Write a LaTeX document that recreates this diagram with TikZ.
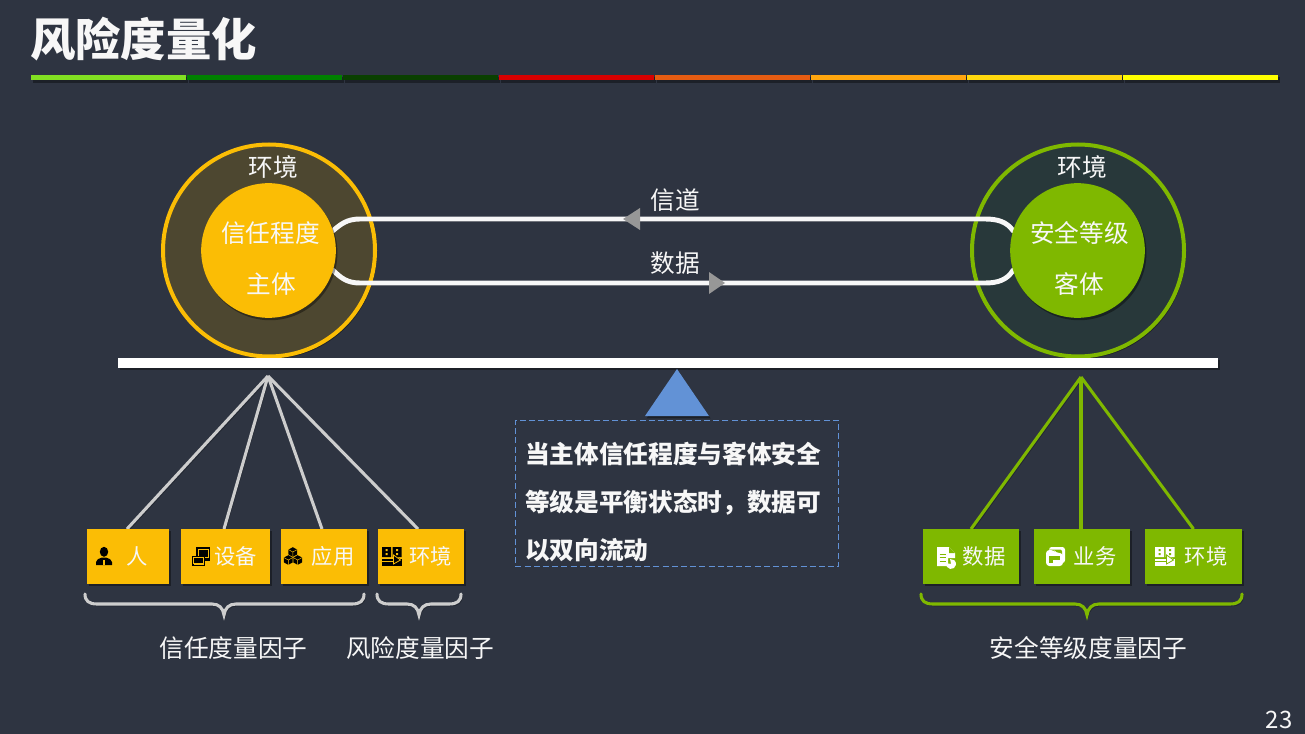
\documentclass[tikz,border=0pt]{standalone}
\usepackage{fontspec}
\setmainfont{Noto Sans CJK SC}
\newfontfamily\heavyfont{Noto Sans CJK SC Black}
\usetikzlibrary{shadows,calc}
\pgfdeclarelayer{lower}
\pgfsetlayers{lower,main}
\definecolor{bgc}{HTML}{2E3441}
\definecolor{amber}{HTML}{FBBD05}
\definecolor{leaf}{HTML}{7FB800}
\definecolor{amberdim}{HTML}{4D4730}
\definecolor{leafdim}{HTML}{28383A}
\definecolor{skyb}{HTML}{6292D6}
\definecolor{linegray}{HTML}{CDCDCD}
\definecolor{arrowgray}{HTML}{979797}
\definecolor{txt}{HTML}{F7F7F7}
\tikzset{
  x=.75pt,y=-.75pt,
  softshadow/.style={drop shadow={opacity=.38,fill=black,shadow xshift=1.2pt,shadow yshift=-1.8pt}},
  lineshadow/.style={preaction={draw=black,opacity=.3,transform canvas={shift={(1pt,-1.5pt)}}}},
  label text/.style={text=txt,inner sep=0,font=\fontsize{18.5pt}{22pt}\selectfont},
  box text/.style={text=txt,inner sep=0,font=\fontsize{16pt}{20pt}\selectfont},
  factor/.style={rectangle,inner sep=0,outer sep=0,minimum height=41.25pt,softshadow},
  amberbox/.style={factor,fill=amber},
  leafbox/.style={factor,fill=leaf},
  ring/.style={circle,inner sep=0,outer sep=0,minimum size=159pt,line width=3pt,softshadow},
  core/.style={circle,inner sep=0,outer sep=0,minimum size=101pt,softshadow},
  channel/.style={draw=txt,line width=3.7pt,line cap=round,lineshadow},
  grayspoke/.style={draw=linegray,line width=2.3pt,lineshadow},
  leafspoke/.style={draw=leaf,line width=2.3pt,lineshadow},
  bracel/.style={line width=2.3pt,line cap=round,lineshadow},
  segbar/.style={rectangle,inner sep=0,outer sep=0,minimum height=3.9pt,softshadow},
  midtip/.style={fill=arrowgray}
}
\newcommand{\bracepath}[4]{% x1, xm, x2, colour
  \draw[bracel,draw=#4] ({#1},594) .. controls ({#1},601) and ({#1+4},604) .. ({#1+12},604)
    -- ({#2-12},604) .. controls ({#2-5},604) and ({#2-1},608) .. ({#2},615)
    .. controls ({#2+1},608) and ({#2+5},604) .. ({#2+12},604)
    -- ({#3-12},604) .. controls ({#3-4},604) and ({#3},601) .. ({#3},594);}
\newcommand{\enviconat}[4]{% x,y top left, fg, bg
  \begin{scope}[shift={(#1,#2)}]
    \fill[#3] (0,0) rectangle (9,10) (10.5,0) rectangle (19.5,10);
    \fill[#3] (0,11.5) rectangle (19.5,19);
    \fill[#4] (3.5,2) rectangle (5.5,4) (14,2) rectangle (16,4) (3.5,6) rectangle (5.5,8) (14,6) rectangle (16,8);
    \draw[#4,line width=.6pt] (0,14.5) -- (12,14.5);
    \fill[#3] (11,7) -- (19.5,13) -- (11,18) -- cycle;
    \draw[#4,line width=.6pt] (11.5,8) -- (18.5,13) -- (11.5,17) -- cycle;
  \end{scope}}
\begin{document}
\begin{tikzpicture}
\useasboundingbox (0,0) rectangle (1305,734);
\begin{pgfonlayer}{lower}
  \fill[bgc] (0,0) rectangle (1305,734);
\end{pgfonlayer}

% title
\node[inner sep=0,text=txt,font=\fontsize{34pt}{40pt}\selectfont\heavyfont] (title) at (143.5,39) {风险度量化};
\foreach \i/\a/\c in {1/31/82E022,2/187/008000,3/343/0A4000,4/499/D80000,5/655/E65C12,6/811/FFA60E,7/967/FFD80E,8/1123/FFFF00}{
  \definecolor{segc}{HTML}{\c}
  \node[segbar,fill=segc,minimum width=116.25pt,anchor=north west] (seg\i) at (\a,75) {};
}

% circles
\begin{pgfonlayer}{lower}
  \node[ring,draw=amber,fill=amberdim] (ringL) at (269,250.5) {};
  \node[ring,draw=leaf,fill=leafdim] (ringR) at (1078,250.5) {};
\end{pgfonlayer}
\node[core,fill=amber] (subj) at (268.5,250.5) {};
\node[core,fill=leaf] (obj) at (1077.5,250.5) {};
\begin{pgfonlayer}{lower}
  \draw[channel] (subj.17) .. controls (341,224) and (347,219) .. (360,219) -- (985,219) .. controls (998,219) and (1007,222) .. (obj.163);
  \draw[channel] (subj.343) .. controls (341,278) and (347,283) .. (360,283) -- (985,283) .. controls (998,283) and (1007,280) .. (obj.197);
\end{pgfonlayer}
\fill[midtip] (623,219) -- (640,208) -- (640,230) -- cycle;
\fill[midtip] (725,283) -- (709,272) -- (709,294) -- cycle;

\node[label text] (envL) at (273,167) {环境};
\node[label text] (envR) at (1082,167) {环境};
\node[label text] (trust) at (270.5,233) {信任程度};
\node[label text] (subjT) at (271,284) {主体};
\node[label text] (secur) at (1079.5,233) {安全等级};
\node[label text] (objT) at (1079.5,284) {客体};
\node[label text] (chan) at (675,200) {信道};
\node[label text] (dataT) at (675,263) {数据};

% beam and fulcrum
\node[rectangle,fill=white,inner sep=0,outer sep=0,minimum width=825pt,minimum height=7.5pt,softshadow,anchor=north west] (beam) at (118,358) {};
\fill[skyb,softshadow] (677,369) -- (709,416) -- (645,416) -- cycle;
\node[draw=skyb,dash pattern=on 4.5pt off 2.4pt,line width=.6pt,anchor=north west,inner sep=0,
      minimum width=242.5pt,minimum height=109.5pt] (note) at (515,420) {};
\node[text=txt,anchor=west,inner sep=0,text width=228pt,align=left,
      font=\fontsize{18.5pt}{36pt}\selectfont\bfseries] (noteT) at (525,502) {当主体信任程度与客体安全\\等级是平衡状态时，数据可\\以双向流动};

% boxes
\node[amberbox,minimum width=61.5pt] (b1) at (128,556.5) {};
\node[amberbox,minimum width=66.75pt] (b2) at (225.5,556.5) {};
\node[amberbox,minimum width=64.5pt] (b3) at (324,556.5) {};
\node[amberbox,minimum width=64.5pt] (b4) at (421,556.5) {};
\node[leafbox,minimum width=72pt] (g1) at (971,556.5) {};
\node[leafbox,minimum width=72pt] (g2) at (1082,556.5) {};
\node[leafbox,minimum width=72.75pt] (g3) at (1193.5,556.5) {};

\node[box text] at (137,556) {人};
\node[box text] at (235.5,556) {设备};
\node[box text] at (333,556) {应用};
\node[box text] at (430.5,556) {环境};
\node[box text] at (984,556) {数据};
\node[box text] at (1095,556) {业务};
\node[box text] at (1206,556) {环境};

% spokes
\coordinate (apexL) at (268,376);
\coordinate (apexR) at (1081,377);
\begin{pgfonlayer}{lower}
  \foreach \t/\d in {b1/-1,b2/-1.5,b3/-2,b4/-3}{\draw[grayspoke] (apexL) -- ($(\t.north)+(\d,0)$);}
  \foreach \t/\d in {g1/0,g2/-1,g3/0}{\draw[leafspoke] (apexR) -- ($(\t.north)+(\d,0)$);}
\end{pgfonlayer}

% icons: person
\fill[black] (104,551.8) ellipse[x radius=4.2,y radius=5];
\fill[black] (96,565) -- (96,562) .. controls (96,559.5) and (99,558.5) .. (102,557.5) -- (106,557.5) .. controls (109,558.5) and (112,559.5) .. (112,562) -- (112,565) -- cycle;
\fill[amber] (103.2,560) rectangle (104.8,565);
% icons: device
\fill[black] (196,547) rectangle (210,561);
\draw[amber,line width=.6pt] (198,549) rectangle (208,557);
\fill[black] (192,556) rectangle (205,566);
\draw[amber,line width=.6pt] (193.5,557.5) rectangle (203.5,563) (193.5,564.5) -- (203.5,564.5);
% icons: cubes
\foreach \cx/\cy in {292.8/552,288.3/560,297.7/560}{
  \fill[black] (\cx,\cy-4.8) -- (\cx+4.4,\cy-2.4) -- (\cx+4.4,\cy+2.4) -- (\cx,\cy+4.8) -- (\cx-4.4,\cy+2.4) -- (\cx-4.4,\cy-2.4) -- cycle;
  \draw[amber,line width=.35pt] (\cx-4.4,\cy-2.4) -- (\cx,\cy) -- (\cx+4.4,\cy-2.4) (\cx,\cy) -- (\cx,\cy+4.8);
}
\enviconat{382}{547}{black}{amber}
% icons: data
\fill[white] (937,547) -- (949,547) -- (955,553) -- (955,558) -- (948,558) -- (948,566) -- (937,566) -- cycle;
\fill[leaf] (949,547) -- (949,553) -- (955,553) -- cycle;
\draw[leaf,line width=.6pt] (939.5,554) -- (946,554) (939.5,557.5) -- (946,557.5) (939.5,561) -- (946,561);
\fill[white] (951,564) ++(135:0) -- ++(190:5) arc[start angle=190,end angle=-100,radius=5] -- cycle;
% icons: folder
\fill[white,rounded corners=2pt] (1049,547) rectangle (1065,563);
\fill[leaf,rounded corners=1.5pt] (1047,549.5) rectangle (1062,564.5);
\fill[white,rounded corners=2.5pt] (1046,550) -- (1054,550) -- (1056,553) -- (1063,553) -- (1063,566) -- (1046,566) -- cycle;
\fill[leaf] (1049,556) rectangle (1060,563);
\fill[white] (1053,560) rectangle (1061,564);
\enviconat{1155}{547}{white}{leaf}

% braces
\bracepath{85}{224}{364}{linegray}
\bracepath{377}{419}{461}{linegray}
\bracepath{921}{1087}{1242}{leaf}

\node[label text] (f1) at (233.5,648) {信任度量因子};
\node[label text] (f2) at (420,648) {风险度量因子};
\node[label text] (f3) at (1088.5,648) {安全等级度量因子};
\node[text=txt,inner sep=0,font=\fontsize{18pt}{22pt}\selectfont] (pg) at (1279,720) {23};
\end{tikzpicture}
\end{document}
